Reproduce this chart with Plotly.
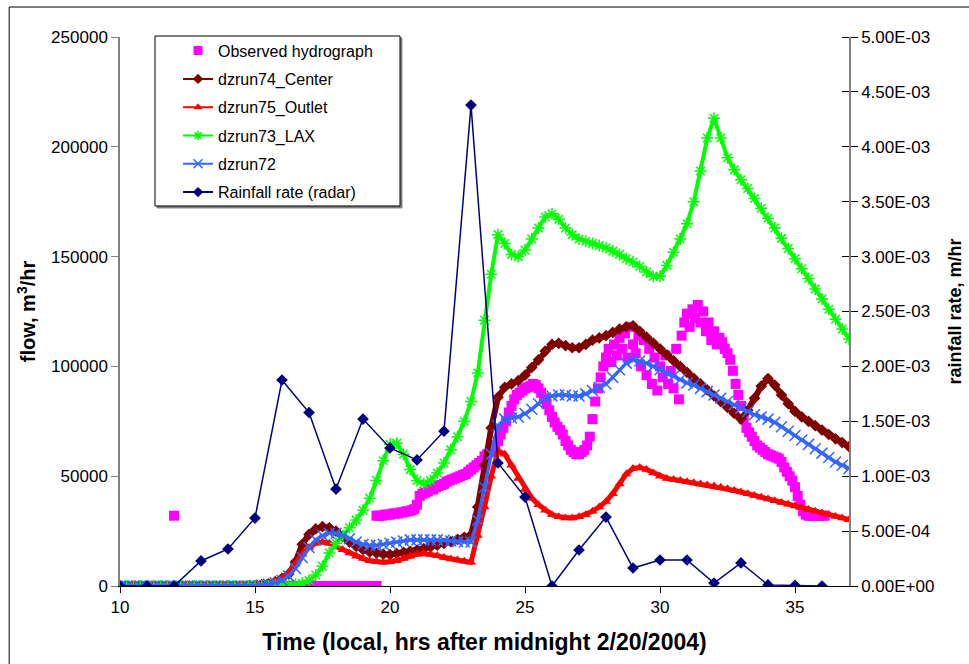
import numpy as np
import plotly.graph_objects as go

# ---------------- data ----------------
# model runs: flow (m^3/hr) every 15 minutes from 10:00 to 37:00
model_t = np.round(np.arange(10.0, 37.001, 0.25), 2)

center_k = [  # dzrun74_Center, thousands of m^3/hr
    0, 0, 0, 0,   0, 0, 0, 0,   0, 0, 0, 0,   0, 0, 0, 0,   0, 0, 0, 0,
    0.3, 0.6, 1, 2,   3.5, 5.5, 11, 19,   23.5, 26, 27, 26.5,   25, 22.5, 20, 18,
    16.5, 15.5, 15, 14.5,   14.3, 14.8, 15.3, 15.8,   16.3, 17, 17.8, 18.6,
    19.4, 20.2, 21.2, 22.2,   23.2, 36, 55, 72,   86, 90.5, 92, 93.5,
    96, 99.5, 103, 107,   110, 110.5, 109.5, 108.5,   108.5, 110, 112, 113,
    114, 115.5, 117, 118,   118.5, 116, 113.3, 110.6,   108, 105.3, 102.6, 100,
    97.3, 94.6, 92, 89.3,   86.6, 84, 81.3, 78.6,   76, 80, 85.5, 91,
    94.5, 91.5, 87, 83,   79.5, 77, 75, 73,   71, 69, 67, 65.3,   63.5]

outlet_k = [  # dzrun75_Outlet
    0, 0, 0, 0,   0, 0, 0, 0,   0, 0, 0, 0,   0, 0, 0, 0,   0, 0, 0, 0,
    0.2, 0.5, 1, 2,   3.5, 6, 10, 14.5,   17.5, 19.5, 20, 19.5,   18, 16.5, 15, 13.5,
    12.5, 11.5, 11, 10.8,   11, 11.5, 12.5, 13.5,   14.5, 14.8, 14.5, 13.8,
    13, 12.3, 11.8, 11.3,   10.8, 23, 36, 50,   61.5, 60, 55, 49,
    44, 40, 37, 34.5,   32.5, 31.5, 31, 31,   31.5, 32.5, 34, 36,
    38.5, 42, 46.5, 51,   53.5, 54, 53, 51.5,   50, 49, 48.5, 48,
    47.5, 47, 46.5, 46,   45.5, 45, 44.3, 43.5,   42.8, 42, 41.2, 40.4,
    39.6, 38.8, 38, 37.2,   36.4, 35.6, 34.8, 34,   33.2, 32.5, 31.7, 31,   30.2]

lax_k = [  # dzrun73_LAX
    0, 0, 0, 0,   0, 0, 0, 0,   0, 0, 0, 0,   0, 0, 0, 0,   0, 0, 0, 0,
    0, 0, 0, 0.2,   0.3, 0.5, 0.8, 1.2,   2.5, 5, 9, 15,   19.5, 23, 26.5, 30,
    34.5, 40, 48, 57,   64.5, 65, 60, 53,   48, 46.5, 48, 51.5,
    56, 62, 68, 75,   84, 97, 121, 142,   160, 156, 151, 150,
    153, 158, 163, 168,   169.5, 167, 163, 160,   158, 157, 156, 155,
    154, 152.5, 151, 149,   147.5, 145.5, 143, 141,   141, 146, 152, 158,
    165, 175, 189, 204,   213, 204, 195, 189.5,   185, 181, 176.5, 172,
    167.5, 163, 158.3, 153.7,   149, 144.5, 140, 135.3,   130.7, 126, 121.5, 117,   112.5]

run72_k = [  # dzrun72
    0, 0, 0, 0,   0, 0, 0, 0,   0, 0, 0, 0,   0, 0, 0, 0,   0, 0, 0, 0,
    0.2, 0.4, 0.8, 1.5,   2.5, 4.5, 8, 13,   17.5, 21, 23, 24,   24, 23, 21.5, 20,
    19, 18.5, 18.5, 19,   19.5, 20, 20.5, 21,   21, 21, 21, 21,
    20.8, 20.5, 20.2, 20,   20, 30, 45, 60,   73, 76, 76.5, 77,
    78.5, 80.5, 83, 85.5,   86.5, 87, 87, 86.5,   86.5, 87.5, 89, 90.5,
    92, 95, 98.5, 101.5,   103, 102.5, 101.5, 100,   98.5, 97, 95.5, 94,
    92.5, 91.5, 90, 88.5,   87, 85.5, 84, 82.5,   81, 79.5, 78, 77,
    76, 74.5, 72.5, 70.5,   68.5, 66.5, 64.5, 62.5,   60.5, 58.5, 56.5, 55,   53.5]

# observed hydrograph: readings every 6 minutes from 16:00 to 36:06
obs_t = np.round(np.arange(16.0, 36.101, 0.1), 1)
obs_k = [
    0, 0, 0, 0, 0, 0, 0, 0, 0, 0,
    0, 0, 0, 0, 0, 0, 0, 0, 0, 0,
    0, 0, 0, 0, 0, 0, 0, 0, 0, 0,
    0, 0, 0, 0, 0, 32, 32, 32, 32.5, 32.5,
    32.5, 33, 33, 33, 33.5, 33.5, 34, 34, 34.5, 35,
    37, 41, 42, 42.5, 43, 44, 44, 45, 45.5, 46,
    46.5, 47.5, 48, 48.5, 49, 49.5, 50, 50.5, 51, 52,
    53, 54, 55, 56, 57, 59, 60, 61, 62.5, 64,
    66, 69, 72, 75, 79, 82, 85, 87, 88, 89,
    90, 90.5, 91, 92, 91.5, 90, 88, 85.5, 83, 80,
    77, 74.5, 72.5, 71, 69, 66, 64, 62, 61, 60,
    60, 61, 62, 64, 68, 76, 84, 90, 95, 100,
    104, 108, 102, 110, 105, 113, 108, 115, 104, 118,
    110, 106, 114, 100, 112, 96, 108, 92, 104, 89,
    100, 95, 105, 92, 98, 90, 108, 85, 114, 120,
    124, 118, 126, 122, 128, 120, 125, 116, 120, 112,
    116, 110, 113, 111, 108, 106, 103, 98, 92, 87,
    82, 76, 72, 70, 68, 66, 64, 63, 62, 61,
    60, 59.5, 59, 58.5, 58, 56.5, 54, 52, 50, 48,
    45, 41, 37, 34, 32.5, 32, 32, 32, 32, 32,
    32, 32]
obs_extra_t = [12.0, 19.5]
obs_extra_k = [32, 0]

# radar rainfall rate (m/hr), hourly
rain_t = list(range(10, 37))
rain_rate = [0, 0, 0, 2.28e-4, 3.37e-4, 6.19e-4, 1.876e-3, 1.58e-3, 8.83e-4,
             1.52e-3, 1.257e-3, 1.148e-3, 1.41e-3, 4.38e-3, 1.12e-3, 8.1e-4,
             0, 3.28e-4, 6.28e-4, 1.64e-4, 2.37e-4, 2.37e-4, 2.7e-5, 2.1e-4,
             1e-5, 5e-6, 0]

flow_ticks = [0, 50000, 100000, 150000, 200000, 250000]
rain_ticks = [0, 5e-4, 1e-3, 1.5e-3, 2e-3, 2.5e-3, 3e-3, 3.5e-3, 4e-3, 4.5e-3, 5e-3]
rain_tick_text = ["0.00E+00", "5.00E-04", "1.00E-03", "1.50E-03", "2.00E-03",
                  "2.50E-03", "3.00E-03", "3.50E-03", "4.00E-03", "4.50E-03",
                  "5.00E-03"]
time_ticks = [10, 15, 20, 25, 30, 35]

# ---------------- figure ----------------
FONT = "Liberation Sans, Arial, sans-serif"


def thousands(arr):
    return [v * 1000 for v in arr]


obs_all_t = list(obs_extra_t) + list(obs_t)
obs_all_q = thousands(obs_extra_k) + thousands(obs_k)

# (name, colour, symbol, marker size, marker outline width)
series_style = [
    ("Observed hydrograph", "#FF00FF", "square", 9, 0),
    ("dzrun74_Center", "#800000", "diamond", 8, 0),
    ("dzrun75_Outlet", "#FF0000", "triangle-up", 8, 0),
    ("dzrun73_LAX", "#00FF00", "asterisk-open", 8, 1.5),
    ("dzrun72", "#3366FF", "x-thin-open", 9, 1.5),
    ("Rainfall rate (radar)", "#000080", "diamond", 8, 0),
]

fig = go.Figure()

# data traces (drawn in legend order; rainfall on the secondary axis)
fig.add_trace(go.Scatter(
    x=obs_all_t, y=obs_all_q, mode="markers", showlegend=False,
    marker=dict(symbol="square", size=10, color="#FF00FF", line=dict(width=0))))
fig.add_trace(go.Scatter(
    x=model_t, y=thousands(center_k), mode="lines+markers", showlegend=False,
    line=dict(color="#800000", width=6),
    marker=dict(symbol="diamond", size=9, color="#800000")))
fig.add_trace(go.Scatter(
    x=model_t, y=thousands(outlet_k), mode="lines+markers", showlegend=False,
    line=dict(color="#FF0000", width=5),
    marker=dict(symbol="triangle-up", size=9, color="#FF0000")))
fig.add_trace(go.Scatter(
    x=model_t, y=thousands(lax_k), mode="lines+markers", showlegend=False,
    line=dict(color="#00FF00", width=4),
    marker=dict(symbol="asterisk-open", size=10, color="#00FF00",
                line=dict(color="#00FF00", width=1.5))))
fig.add_trace(go.Scatter(
    x=model_t, y=thousands(run72_k), mode="lines+markers", showlegend=False,
    line=dict(color="#3366FF", width=3.5),
    marker=dict(symbol="x-thin-open", size=11, color="#3366FF",
                line=dict(color="#3366FF", width=1.5))))
fig.add_trace(go.Scatter(
    x=rain_t, y=rain_rate, mode="lines+markers", showlegend=False, yaxis="y2",
    line=dict(color="#000080", width=1.5),
    marker=dict(symbol="diamond", size=9, color="#000080")))

# legend entries with thin sample lines
for i, (name, color, symbol, size, lw) in enumerate(series_style):
    mode = "markers" if i == 0 else "lines+markers"
    fig.add_trace(go.Scatter(
        x=[None], y=[None], mode=mode, name=name, legendgroup=f"g{i}",
        line=dict(color=color, width=2),
        marker=dict(symbol=symbol, size=size, color=color,
                    line=dict(color=color, width=lw))))

axis_gray = "#808080"
fig.update_layout(
    width=969, height=664,
    margin=dict(l=120, r=120, t=37, b=78, autoexpand=False),
    paper_bgcolor="white", plot_bgcolor="white",
    font=dict(family=FONT, size=17, color="black"),
    showlegend=True,
    legend=dict(x=0.0796, xanchor="left", y=1.006, yanchor="top",
                bgcolor="rgba(0,0,0,0)", borderwidth=0,
                font=dict(family=FONT, size=16, color="black"),
                tracegroupgap=4.5, itemwidth=30),
    xaxis=dict(range=[10, 37], tickvals=time_ticks, ticks="outside",
               ticklen=6, tickcolor="black", showline=True, linecolor="black",
               linewidth=1, showgrid=False, zeroline=False, automargin=False,
               tickfont=dict(family=FONT, size=17),
               title=dict(text="<b>Time (local, hrs after midnight 2/20/2004)</b>",
                          font=dict(family=FONT, size=23), standoff=17)),
    yaxis=dict(range=[0, 250000], tickvals=flow_ticks, tickformat="d",
               ticks="outside", ticklen=7, tickcolor=axis_gray,
               showline=True, linecolor=axis_gray, linewidth=1.5,
               showgrid=False, zeroline=False, automargin=False,
               tickfont=dict(family=FONT, size=17),
               title=dict(text="<b>flow, m<sup>3</sup>/hr</b>",
                          font=dict(family=FONT, size=20), standoff=10)),
    yaxis2=dict(range=[0, 5e-3], overlaying="y", side="right",
                tickvals=rain_ticks, ticktext=rain_tick_text,
                ticks="outside", ticklen=7, tickcolor="black",
                minor=dict(tickvals=rain_ticks, ticks="inside", ticklen=7,
                           tickcolor="black"),
                showline=True, linecolor=axis_gray, linewidth=1.5,
                showgrid=False, zeroline=False, automargin=False,
                tickfont=dict(family=FONT, size=17),
                title=dict(text="<b>rainfall rate, m/hr</b>",
                           font=dict(family=FONT, size=18), standoff=15)),
    shapes=[
        # chart frame
        dict(type="rect", xref="paper", yref="paper",
             x0=-0.152, x1=1.2, y0=-0.2, y1=1.0546,
             line=dict(color="black", width=1), fillcolor="rgba(0,0,0,0)",
             layer="below"),
        # legend shadow and box
        dict(type="rect", xref="paper", yref="paper",
             x0=0.0508, x1=0.3868, y0=0.6886, y1=0.9982,
             line=dict(color=axis_gray, width=1), fillcolor=axis_gray,
             layer="below"),
        dict(type="rect", xref="paper", yref="paper",
             x0=0.048, x1=0.3841, y0=0.6922, y1=1.0018,
             line=dict(color="black", width=1), fillcolor="white",
             layer="below"),
    ],
)

fig.write_html("out.html")
